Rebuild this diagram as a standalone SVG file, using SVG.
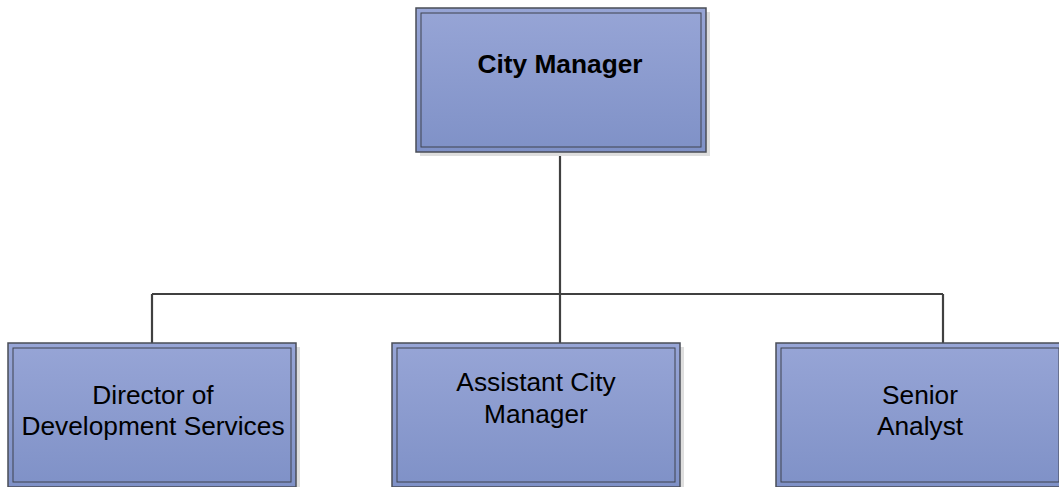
<svg xmlns="http://www.w3.org/2000/svg" width="1059" height="487" viewBox="0 0 1059 487">
<defs>
<linearGradient id="g" x1="0" y1="0" x2="0" y2="1">
<stop offset="0" stop-color="#97a5d6"/>
<stop offset="1" stop-color="#7f91c7"/>
</linearGradient>
<style>
.sh{fill:#dedede}
.ob{fill:url(#g);stroke:#4a4d57;stroke-width:1.5}
.ib{fill:none;stroke:#3f434e;stroke-width:1}
.t{font-family:"Liberation Sans",Arial,sans-serif;font-size:26.3px;fill:#000;text-anchor:middle}
.b{font-weight:bold;font-size:26.3px}
.c{fill:none;stroke:#404040;stroke-width:2.2}
</style>
</defs>
<rect width="1059" height="487" fill="#fff"/>
<g id="connectors">
<path class="c" d="M560 152V343"/>
<path class="c" d="M152 294H943"/>
<path class="c" d="M152 294V343"/>
<path class="c" d="M943 294V343"/>
</g>
<g id="city-manager">
<rect class="sh" x="420" y="12" width="290" height="144"/>
<rect class="ob" x="416" y="8" width="290" height="144"/>
<rect class="ib" x="421" y="13" width="280" height="134"/>
<text class="t b" x="560" y="73">City Manager</text>
</g>
<g id="director">
<rect class="sh" x="12" y="347" width="288" height="144"/>
<rect class="ob" x="8" y="343" width="288" height="144"/>
<rect class="ib" x="13" y="348" width="278" height="134"/>
<text class="t" x="153" y="404">Director of</text>
<text class="t" x="153" y="435">Development Services</text>
</g>
<g id="assistant">
<rect class="sh" x="396" y="347" width="288" height="144"/>
<rect class="ob" x="392" y="343" width="288" height="144"/>
<rect class="ib" x="397" y="348" width="278" height="134"/>
<text class="t" x="536" y="391">Assistant City</text>
<text class="t" x="536" y="423">Manager</text>
</g>
<g id="analyst">
<rect class="sh" x="780" y="347" width="288" height="144"/>
<rect class="ob" x="776" y="343" width="288" height="144"/>
<rect class="ib" x="781" y="348" width="278" height="134"/>
<text class="t" x="920" y="404">Senior</text>
<text class="t" x="920" y="435">Analyst</text>
</g>
</svg>
